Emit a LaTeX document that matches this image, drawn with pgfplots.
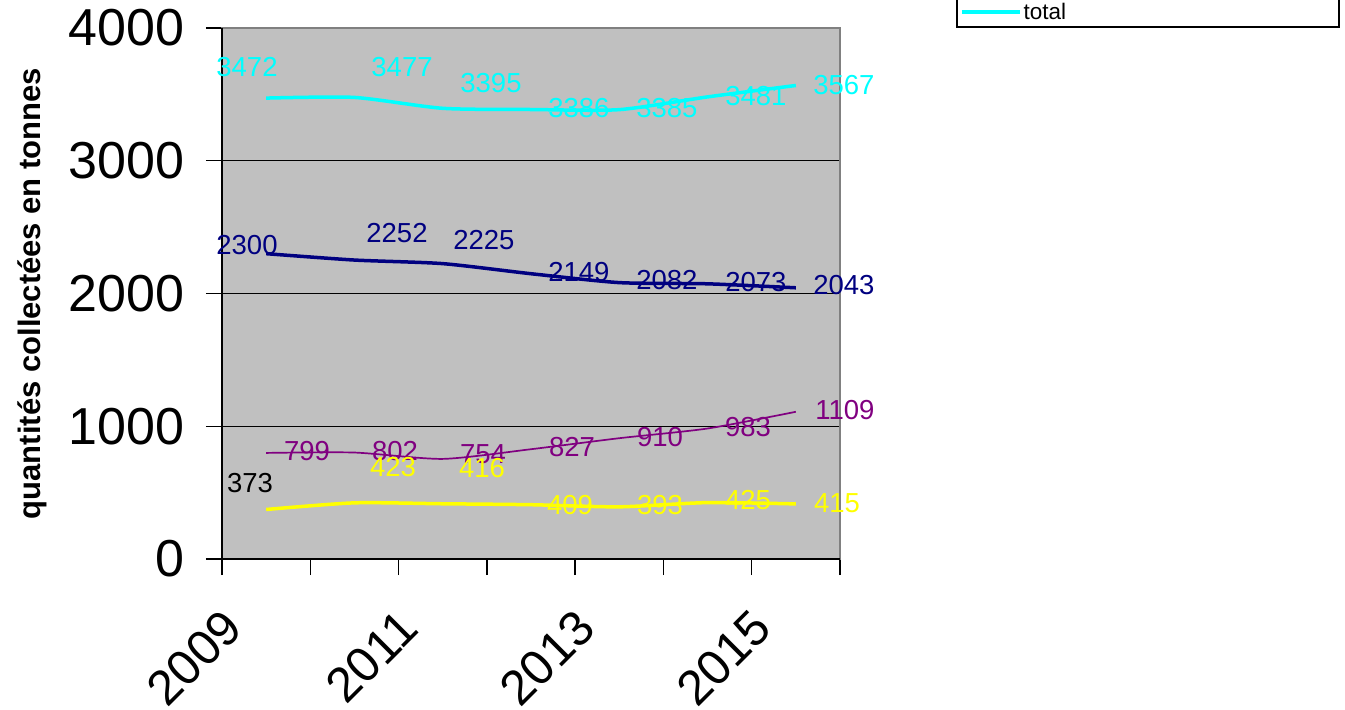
\documentclass[border=0pt]{standalone}
\usepackage{fontspec}
\setmainfont{Liberation Sans}
\usepackage{pgfplots}
\pgfplotsset{compat=1.18}
\definecolor{plotgray}{RGB}{192,192,192}
\definecolor{bordergray}{RGB}{128,128,128}
\definecolor{ccyan}{RGB}{0,255,255}
\definecolor{cnavy}{RGB}{0,0,128}
\definecolor{cpurple}{RGB}{128,0,128}
\definecolor{cyellow}{RGB}{255,255,0}
\begin{document}
\begin{tikzpicture}
\path[use as bounding box] (0,0) rectangle (1345pt,710pt);
\begin{axis}[
  at={(222pt,151pt)}, anchor=south west,
  scale only axis, width=618pt, height=531pt,
  xmin=0, xmax=7, ymin=0, ymax=4000,
  axis background/.style={fill=plotgray},
  axis line style={draw=bordergray, line width=2pt},
  ytick={0,1000,2000,3000,4000}, yticklabels={0,1000,2000,3000,4000},
  ymajorgrids, grid style={black, line width=1.3pt},
  tick align=outside, ytick pos=left, xtick pos=bottom,
  major tick length=16pt,
  tick style={black, line width=1.5pt},
  xtick={0,...,7}, xticklabels={},
  extra x ticks={0.5,2.5,4.5,6.5},
  extra x tick labels={2009,2011,2013,2015},
  extra x tick style={major tick length=0pt, xticklabel style={xshift=-31pt, yshift=-58pt, rotate=45, anchor=east}},
  yticklabel style={font=\fontsize{52}{54}\selectfont, xshift=-18pt},
  xticklabel style={font=\fontsize{49}{51}\selectfont},
  ylabel={quantités collectées en tonnes},
  ylabel style={font=\bfseries\fontsize{31}{33}\selectfont, at={(axis description cs:-0.307,0.5)}, anchor=center},
  clip=false,
  legend style={at={(1.809,1.0)}, anchor=south east, draw=black, line width=1.5pt, font=\fontsize{22.5}{24}\selectfont, inner xsep=3pt, inner ysep=4.5pt},
  legend image code/.code={\draw[#1] (0pt,0pt) -- (58pt,0pt);},
]
\addplot[cyellow, line width=3.5pt, smooth, tension=0.4, forget plot] coordinates {(0.5,373)(1.5,423)(2.5,416)(3.5,409)(4.5,393)(5.5,425)(6.5,415)};
\addplot[cpurple, line width=1.7pt, smooth, tension=0.4, forget plot] coordinates {(0.5,799)(1.5,802)(2.5,754)(3.5,827)(4.5,910)(5.5,983)(6.5,1109)};
\addplot[cnavy, line width=3.5pt, smooth, tension=0.4, forget plot] coordinates {(0.5,2300)(1.5,2252)(2.5,2225)(3.5,2149)(4.5,2082)(5.5,2073)(6.5,2043)};
\addplot[ccyan, line width=3.5pt, smooth, tension=0.4] coordinates {(0.5,3472)(1.5,3477)(2.5,3395)(3.5,3386)(4.5,3385)(5.5,3481)(6.5,3567)};
\addlegendentry{total\hspace*{268pt}}
\draw[black, line width=2pt] (rel axis cs:0,1) -- (rel axis cs:0,0) -- (rel axis cs:1,0);
\begin{scope}[every node/.style={font=\fontsize{27.5}{29}\selectfont, inner sep=0pt}]
\node[text=ccyan] at (axis cs:0.283,3706) {3472};
\node[text=ccyan] at (axis cs:2.039,3706) {3477};
\node[text=ccyan] at (axis cs:3.047,3586) {3395};
\node[text=ccyan] at (axis cs:4.043,3397) {3386};
\node[text=ccyan] at (axis cs:5.040,3397) {3385};
\node[text=ccyan] at (axis cs:6.048,3488) {3481};
\node[text=ccyan] at (axis cs:7.045,3571) {3567};
\node[text=cnavy] at (axis cs:0.283,2365) {2300};
\node[text=cnavy] at (axis cs:1.982,2456) {2252};
\node[text=cnavy] at (axis cs:2.967,2403) {2225};
\node[text=cnavy] at (axis cs:4.043,2162) {2149};
\node[text=cnavy] at (axis cs:5.040,2102) {2082};
\node[text=cnavy] at (axis cs:6.048,2087) {2073};
\node[text=cnavy] at (axis cs:7.045,2064) {2043};
\node[text=cpurple] at (axis cs:0.963,814) {799};
\node[text=cpurple] at (axis cs:1.959,814) {802};
\node[text=cpurple] at (axis cs:2.956,791) {754};
\node[text=cpurple] at (axis cs:3.964,844) {827};
\node[text=cpurple] at (axis cs:4.961,919) {910};
\node[text=cpurple] at (axis cs:5.958,994) {983};
\node[text=cpurple] at (axis cs:7.056,1122) {1109};
\node[text=black] at (axis cs:0.317,573) {373};
\node[text=cyellow] at (axis cs:1.937,693) {423};
\node[text=cyellow] at (axis cs:2.945,686) {416};
\node[text=cyellow] at (axis cs:3.942,407) {409};
\node[text=cyellow] at (axis cs:4.961,407) {393};
\node[text=cyellow] at (axis cs:5.958,444) {425};
\node[text=cyellow] at (axis cs:6.966,422) {415};
\end{scope}
\end{axis}
\end{tikzpicture}
\end{document}
